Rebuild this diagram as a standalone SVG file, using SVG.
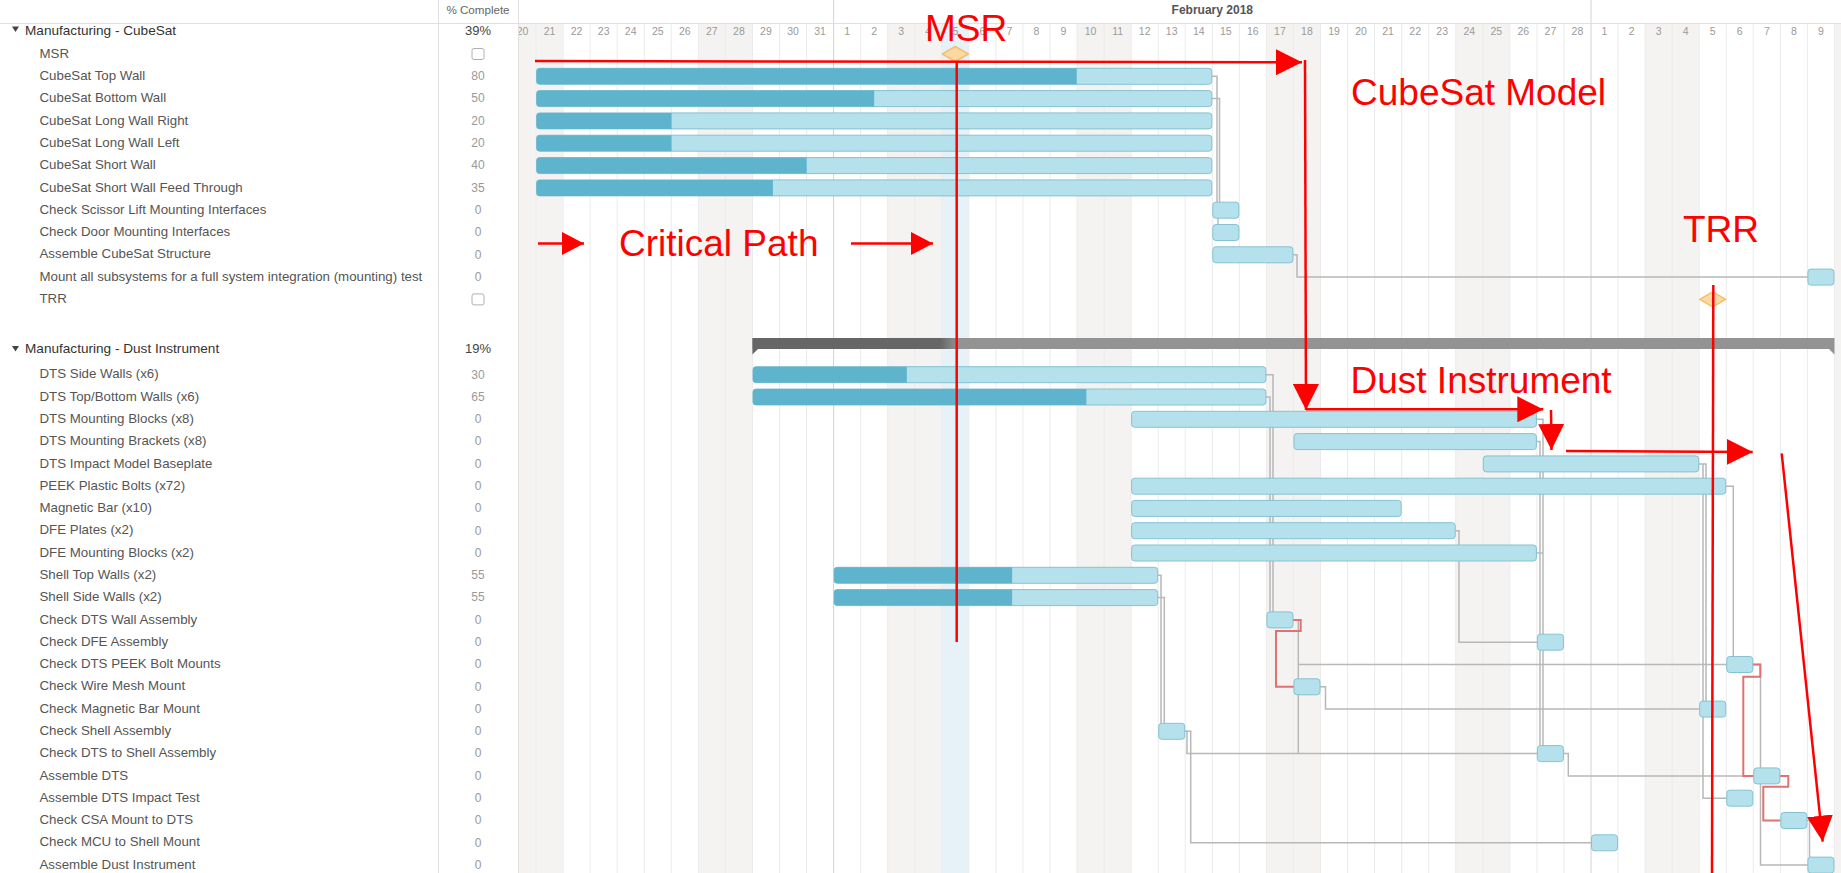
<svg xmlns="http://www.w3.org/2000/svg" width="1841" height="873" viewBox="0 0 1841 873">
<style>
text{font-family:"Liberation Sans",Arial,sans-serif}
.lbl{font-size:13.3px;fill:#555}
.grp{font-size:13.6px;fill:#333}
.pct{font-size:12px;fill:#999;text-anchor:middle}
.gpct{font-size:13px;fill:#444;text-anchor:middle}
.day{font-size:10.5px;fill:#9a9a9a;text-anchor:middle}
.bar{fill:#b5e1ec;stroke:#86c2d2;stroke-width:1}
.prog{fill:#5fb4cd}
.dep{fill:none;stroke:#b8b8b8;stroke-width:1.5}
.crit{fill:none;stroke:#e07272;stroke-width:2}
.ann{fill:none;stroke:#ff0000;stroke-width:2.5}
.annt{font-size:37px;fill:#ff0000}
.ms{fill:#fcd9a2;stroke:#f3bf70;stroke-width:1.5;stroke-linejoin:round}
.chk{fill:#fff;stroke:#b0b0b0;stroke-width:1}
.wk{fill:#f4f3f1}
</style>
<defs>
<clipPath id="tl"><rect x="518" y="0" width="1323" height="873"/></clipPath>
<marker id="ah" markerUnits="userSpaceOnUse" viewBox="0 0 26 26" markerWidth="26" markerHeight="26" refX="26" refY="13" orient="auto"><path d="M0,0 L26,13 L0,26 Z" fill="#ff0000"/></marker>
<marker id="ahs" markerUnits="userSpaceOnUse" viewBox="0 0 22 23" markerWidth="22" markerHeight="23" refX="22" refY="11.5" orient="auto"><path d="M0,0 L22,11.5 L0,23 Z" fill="#ff0000"/></marker>
<linearGradient id="sg" x1="0" x2="1" y1="0" y2="0"><stop offset="0" stop-color="#666"/><stop offset="1" stop-color="#939393"/></linearGradient>
</defs>
<rect x="0" y="0" width="1841" height="873" fill="#fff"/>
<g id="timeline-grid" clip-path="url(#tl)">
<rect class="wk" x="518" y="23" width="45.1" height="850"/>
<rect class="wk" x="698.35" y="23" width="54.1" height="850"/>
<rect class="wk" x="887.7" y="23" width="54.1" height="850"/>
<rect class="wk" x="1077.05" y="23" width="54.1" height="850"/>
<rect class="wk" x="1266.4" y="23" width="54.1" height="850"/>
<rect class="wk" x="1455.75" y="23" width="54.1" height="850"/>
<rect class="wk" x="1645.1" y="23" width="54.1" height="850"/>
<rect class="wk" x="1834.45" y="23" width="7" height="850"/>
<rect x="941.8" y="23" width="27.05" height="850" fill="#e6f2f8"/>
<path fill="none" stroke="#ebebeb" stroke-width="1" d="M536.05,23V873M563.1,23V873M590.15,23V873M617.2,23V873M644.25,23V873M671.3,23V873M698.35,23V873M725.4,23V873M752.45,23V873M779.5,23V873M806.55,23V873M860.65,23V873M887.7,23V873M914.75,23V873M941.8,23V873M968.85,23V873M995.9,23V873M1022.95,23V873M1050,23V873M1077.05,23V873M1104.1,23V873M1131.15,23V873M1158.2,23V873M1185.25,23V873M1212.3,23V873M1239.35,23V873M1266.4,23V873M1293.45,23V873M1320.5,23V873M1347.55,23V873M1374.6,23V873M1401.65,23V873M1428.7,23V873M1455.75,23V873M1482.8,23V873M1509.85,23V873M1536.9,23V873M1563.95,23V873M1618.05,23V873M1645.1,23V873M1672.15,23V873M1699.2,23V873M1726.25,23V873M1753.3,23V873M1780.35,23V873M1807.4,23V873M1834.45,23V873"/>
<path fill="none" stroke="#d2d2d2" stroke-width="1" d="M833.6,0V873M1591,0V873"/>
<text x="1212.3" y="14" font-size="12" font-weight="bold" fill="#555" text-anchor="middle">February 2018</text>
<g class="daylabels">
<text class="day" x="522.5" y="35">20</text><text class="day" x="549.55" y="35">21</text><text class="day" x="576.6" y="35">22</text><text class="day" x="603.65" y="35">23</text><text class="day" x="630.7" y="35">24</text><text class="day" x="657.75" y="35">25</text><text class="day" x="684.8" y="35">26</text><text class="day" x="711.85" y="35">27</text><text class="day" x="738.9" y="35">28</text><text class="day" x="765.95" y="35">29</text><text class="day" x="793" y="35">30</text><text class="day" x="820.05" y="35">31</text>
<text class="day" x="847.1" y="35">1</text><text class="day" x="874.15" y="35">2</text><text class="day" x="901.2" y="35">3</text><text class="day" x="928.25" y="35">4</text><text class="day" x="955.3" y="35">5</text><text class="day" x="982.35" y="35">6</text><text class="day" x="1009.4" y="35">7</text><text class="day" x="1036.45" y="35">8</text><text class="day" x="1063.5" y="35">9</text><text class="day" x="1090.55" y="35">10</text><text class="day" x="1117.6" y="35">11</text><text class="day" x="1144.65" y="35">12</text><text class="day" x="1171.7" y="35">13</text><text class="day" x="1198.75" y="35">14</text><text class="day" x="1225.8" y="35">15</text><text class="day" x="1252.85" y="35">16</text><text class="day" x="1279.9" y="35">17</text><text class="day" x="1306.95" y="35">18</text><text class="day" x="1334" y="35">19</text><text class="day" x="1361.05" y="35">20</text><text class="day" x="1388.1" y="35">21</text><text class="day" x="1415.15" y="35">22</text><text class="day" x="1442.2" y="35">23</text><text class="day" x="1469.25" y="35">24</text><text class="day" x="1496.3" y="35">25</text><text class="day" x="1523.35" y="35">26</text><text class="day" x="1550.4" y="35">27</text><text class="day" x="1577.45" y="35">28</text>
<text class="day" x="1604.5" y="35">1</text><text class="day" x="1631.55" y="35">2</text><text class="day" x="1658.6" y="35">3</text><text class="day" x="1685.65" y="35">4</text><text class="day" x="1712.7" y="35">5</text><text class="day" x="1739.75" y="35">6</text><text class="day" x="1766.8" y="35">7</text><text class="day" x="1793.85" y="35">8</text><text class="day" x="1820.9" y="35">9</text>
</g>
</g>
<g id="panes">
<path fill="none" stroke="#e0e0e0" stroke-width="1" d="M0,23.5H1841M438.5,0V873M518.5,0V873"/>
<text x="478" y="14" font-size="11.6" fill="#666" text-anchor="middle">% Complete</text>
</g>
<g id="connectors">
<path class="dep" d="M1211.8,76.3H1217V202.2"/>
<path class="dep" d="M1211.8,98.6H1219.5V202.2"/>
<path class="dep" d="M1218,218.2V224.5"/>
<path class="dep" d="M1293,254.8H1297V277.1H1807.9"/>
<path class="dep" d="M1265.4,374.7H1273V611.9"/>
<path class="dep" d="M1265.4,397H1270V611.9"/>
<path class="dep" d="M1536.4,419.3H1543V745.6"/>
<path class="dep" d="M1536.4,441.6H1540V745.6"/>
<path class="dep" d="M1536.4,553H1543"/>
<path class="dep" d="M1455.3,530.7H1459V642.2H1537.4"/>
<path class="dep" d="M1698.7,463.9H1706V701.1"/>
<path class="dep" d="M1703,463.9V798.2H1726.75"/>
<path class="dep" d="M1725.8,486.2H1733.3V656.5"/>
<path class="dep" d="M1157.7,575.3H1161V723.3"/>
<path class="dep" d="M1157.7,597.6H1164.3V723.3"/>
<path class="dep" d="M1184.8,731.3H1187V753.6H1537.4"/>
<path class="dep" d="M1184.8,731.3H1190.7V842.8H1591.5"/>
<path class="dep" d="M1293,619.9H1298.3V753.6"/>
<path class="dep" d="M1298.3,664.5H1726.75"/>
<path class="dep" d="M1320,686.8H1325.5V709.1H1699.7"/>
<path class="dep" d="M1563.5,753.6H1568.3V775.9H1753.8"/>
<path class="dep" d="M1752.8,664.5H1760.5V865.1H1807.9"/>
<path class="dep" d="M1806.9,820.5H1809.5V857.1"/>
<path class="crit" d="M1293,619.9H1300.7V631H1276V686.8H1293.95"/>
<path class="crit" d="M1752.8,664.5H1760.3V676.7H1743.3V775.9H1753.8"/>
<path class="crit" d="M1779.9,775.9H1788.3V786.7H1763.3V820.5H1780.85"/>
</g>
<g id="group-cubesat">
<polygon points="12,26.5 19,26.5 15.5,32" fill="#444"/>
<text class="grp" x="25" y="34.8">Manufacturing - CubeSat</text>
<text class="gpct" x="478" y="34.8">39%</text>
</g>
<g id="task-msr"><text class="lbl" x="39.5" y="57.6">MSR</text><rect class="chk" x="472" y="48.5" width="12" height="11" rx="2"/><polygon class="ms" points="942.3,54 955.3,46.5 968.3,54 955.3,61.5"/></g>
<g id="task-top-wall"><text class="lbl" x="39.5" y="79.9">CubeSat Top Wall</text><text class="pct" x="478" y="80.1">80</text><rect class="bar" x="536.55" y="68.3" width="675.25" height="16" rx="3"/><path class="prog" d="M539.55,68.3H1076.75V84.3H539.55A3,3 0 0 1 536.55,81.3V71.3A3,3 0 0 1 539.55,68.3Z"/></g>
<g id="task-bottom-wall"><text class="lbl" x="39.5" y="102.2">CubeSat Bottom Wall</text><text class="pct" x="478" y="102.4">50</text><rect class="bar" x="536.55" y="90.6" width="675.25" height="16" rx="3"/><path class="prog" d="M539.55,90.6H874.2V106.6H539.55A3,3 0 0 1 536.55,103.6V93.6A3,3 0 0 1 539.55,90.6Z"/></g>
<g id="task-long-wall-right"><text class="lbl" x="39.5" y="124.5">CubeSat Long Wall Right</text><text class="pct" x="478" y="124.7">20</text><rect class="bar" x="536.55" y="112.9" width="675.25" height="16" rx="3"/><path class="prog" d="M539.55,112.9H671.6V128.9H539.55A3,3 0 0 1 536.55,125.9V115.9A3,3 0 0 1 539.55,112.9Z"/></g>
<g id="task-long-wall-left"><text class="lbl" x="39.5" y="146.8">CubeSat Long Wall Left</text><text class="pct" x="478" y="147">20</text><rect class="bar" x="536.55" y="135.2" width="675.25" height="16" rx="3"/><path class="prog" d="M539.55,135.2H671.6V151.2H539.55A3,3 0 0 1 536.55,148.2V138.2A3,3 0 0 1 539.55,135.2Z"/></g>
<g id="task-short-wall"><text class="lbl" x="39.5" y="169.2">CubeSat Short Wall</text><text class="pct" x="478" y="169.4">40</text><rect class="bar" x="536.55" y="157.6" width="675.25" height="16" rx="3"/><path class="prog" d="M539.55,157.6H806.7V173.6H539.55A3,3 0 0 1 536.55,170.6V160.6A3,3 0 0 1 539.55,157.6Z"/></g>
<g id="task-feed-through"><text class="lbl" x="39.5" y="191.5">CubeSat Short Wall Feed Through</text><text class="pct" x="478" y="191.7">35</text><rect class="bar" x="536.55" y="179.9" width="675.25" height="16" rx="3"/><path class="prog" d="M539.55,179.9H772.9V195.9H539.55A3,3 0 0 1 536.55,192.9V182.9A3,3 0 0 1 539.55,179.9Z"/></g>
<g id="task-check-scissor"><text class="lbl" x="39.5" y="213.8">Check Scissor Lift Mounting Interfaces</text><text class="pct" x="478" y="214">0</text><rect class="bar" x="1212.8" y="202.2" width="26.05" height="16" rx="3"/></g>
<g id="task-check-door"><text class="lbl" x="39.5" y="236.1">Check Door Mounting Interfaces</text><text class="pct" x="478" y="236.3">0</text><rect class="bar" x="1212.8" y="224.5" width="26.05" height="16" rx="3"/></g>
<g id="task-assemble-cubesat"><text class="lbl" x="39.5" y="258.4">Assemble CubeSat Structure</text><text class="pct" x="478" y="258.6">0</text><rect class="bar" x="1212.8" y="246.8" width="80.15" height="16" rx="3"/></g>
<g id="task-mount-all"><text class="lbl" x="39.5" y="280.7">Mount all subsystems for a full system integration (mounting) test</text><text class="pct" x="478" y="280.9">0</text><rect class="bar" x="1807.9" y="269.1" width="26.05" height="16" rx="3"/></g>
<g id="task-trr"><text class="lbl" x="39.5" y="303">TRR</text><rect class="chk" x="472" y="293.9" width="12" height="11" rx="2"/><polygon class="ms" points="1699.7,299.4 1712.7,291.9 1725.7,299.4 1712.7,306.9"/></g>
<g id="group-dust">
<polygon points="12,346 19,346 15.5,351.5" fill="#444"/>
<text class="grp" x="25" y="352.8">Manufacturing - Dust Instrument</text>
<text class="gpct" x="478" y="352.8">19%</text>
<rect x="752.45" y="338" width="1082" height="11" fill="#939393"/>
<rect x="752.45" y="338" width="188" height="11" fill="#666"/>
<rect x="940" y="338" width="18" height="11" fill="url(#sg)"/>
<polygon points="752.45,349 758,349 752.45,354.5" fill="#666"/>
<polygon points="1834.45,349 1828.9,349 1834.45,354.5" fill="#939393"/>
</g>
<g id="task-dts-side-walls"><text class="lbl" x="39.5" y="378.3">DTS Side Walls (x6)</text><text class="pct" x="478" y="378.5">30</text><rect class="bar" x="752.95" y="366.7" width="512.95" height="16" rx="3"/><path class="prog" d="M755.95,366.7H906.8V382.7H755.95A3,3 0 0 1 752.95,379.7V369.7A3,3 0 0 1 755.95,366.7Z"/></g>
<g id="task-dts-top-bottom"><text class="lbl" x="39.5" y="400.6">DTS Top/Bottom Walls (x6)</text><text class="pct" x="478" y="400.8">65</text><rect class="bar" x="752.95" y="389" width="512.95" height="16" rx="3"/><path class="prog" d="M755.95,389H1086.4V405H755.95A3,3 0 0 1 752.95,402V392A3,3 0 0 1 755.95,389Z"/></g>
<g id="task-dts-mounting-blocks"><text class="lbl" x="39.5" y="422.9">DTS Mounting Blocks (x8)</text><text class="pct" x="478" y="423.1">0</text><rect class="bar" x="1131.65" y="411.3" width="404.75" height="16" rx="3"/></g>
<g id="task-dts-mounting-brackets"><text class="lbl" x="39.5" y="445.2">DTS Mounting Brackets (x8)</text><text class="pct" x="478" y="445.4">0</text><rect class="bar" x="1293.95" y="433.6" width="242.45" height="16" rx="3"/></g>
<g id="task-dts-baseplate"><text class="lbl" x="39.5" y="467.5">DTS Impact Model Baseplate</text><text class="pct" x="478" y="467.7">0</text><rect class="bar" x="1483.3" y="455.9" width="215.4" height="16" rx="3"/></g>
<g id="task-peek-bolts"><text class="lbl" x="39.5" y="489.8">PEEK Plastic Bolts (x72)</text><text class="pct" x="478" y="490">0</text><rect class="bar" x="1131.65" y="478.2" width="594.1" height="16" rx="3"/></g>
<g id="task-magnetic-bar"><text class="lbl" x="39.5" y="512">Magnetic Bar (x10)</text><text class="pct" x="478" y="512.2">0</text><rect class="bar" x="1131.65" y="500.4" width="269.5" height="16" rx="3"/></g>
<g id="task-dfe-plates"><text class="lbl" x="39.5" y="534.3">DFE Plates (x2)</text><text class="pct" x="478" y="534.5">0</text><rect class="bar" x="1131.65" y="522.7" width="323.6" height="16" rx="3"/></g>
<g id="task-dfe-mounting-blocks"><text class="lbl" x="39.5" y="556.6">DFE Mounting Blocks (x2)</text><text class="pct" x="478" y="556.8">0</text><rect class="bar" x="1131.65" y="545" width="404.75" height="16" rx="3"/></g>
<g id="task-shell-top"><text class="lbl" x="39.5" y="578.9">Shell Top Walls (x2)</text><text class="pct" x="478" y="579.1">55</text><rect class="bar" x="834.1" y="567.3" width="323.6" height="16" rx="3"/><path class="prog" d="M837.1,567.3H1012.1V583.3H837.1A3,3 0 0 1 834.1,580.3V570.3A3,3 0 0 1 837.1,567.3Z"/></g>
<g id="task-shell-side"><text class="lbl" x="39.5" y="601.2">Shell Side Walls (x2)</text><text class="pct" x="478" y="601.4">55</text><rect class="bar" x="834.1" y="589.6" width="323.6" height="16" rx="3"/><path class="prog" d="M837.1,589.6H1012.1V605.6H837.1A3,3 0 0 1 834.1,602.6V592.6A3,3 0 0 1 837.1,589.6Z"/></g>
<g id="task-check-dts-wall"><text class="lbl" x="39.5" y="623.5">Check DTS Wall Assembly</text><text class="pct" x="478" y="623.7">0</text><rect class="bar" x="1266.9" y="611.9" width="26.05" height="16" rx="3"/></g>
<g id="task-check-dfe"><text class="lbl" x="39.5" y="645.8">Check DFE Assembly</text><text class="pct" x="478" y="646">0</text><rect class="bar" x="1537.4" y="634.2" width="26.05" height="16" rx="3"/></g>
<g id="task-check-peek"><text class="lbl" x="39.5" y="668.1">Check DTS PEEK Bolt Mounts</text><text class="pct" x="478" y="668.3">0</text><rect class="bar" x="1726.75" y="656.5" width="26.05" height="16" rx="3"/></g>
<g id="task-check-wire-mesh"><text class="lbl" x="39.5" y="690.4">Check Wire Mesh Mount</text><text class="pct" x="478" y="690.6">0</text><rect class="bar" x="1293.95" y="678.8" width="26.05" height="16" rx="3"/></g>
<g id="task-check-magnetic"><text class="lbl" x="39.5" y="712.7">Check Magnetic Bar Mount</text><text class="pct" x="478" y="712.9">0</text><rect class="bar" x="1699.7" y="701.1" width="26.05" height="16" rx="3"/></g>
<g id="task-check-shell"><text class="lbl" x="39.5" y="734.9">Check Shell Assembly</text><text class="pct" x="478" y="735.1">0</text><rect class="bar" x="1158.7" y="723.3" width="26.05" height="16" rx="3"/></g>
<g id="task-check-dts-shell"><text class="lbl" x="39.5" y="757.2">Check DTS to Shell Assembly</text><text class="pct" x="478" y="757.4">0</text><rect class="bar" x="1537.4" y="745.6" width="26.05" height="16" rx="3"/></g>
<g id="task-assemble-dts"><text class="lbl" x="39.5" y="779.5">Assemble DTS</text><text class="pct" x="478" y="779.7">0</text><rect class="bar" x="1753.8" y="767.9" width="26.05" height="16" rx="3"/></g>
<g id="task-impact-test"><text class="lbl" x="39.5" y="801.8">Assemble DTS Impact Test</text><text class="pct" x="478" y="802">0</text><rect class="bar" x="1726.75" y="790.2" width="26.05" height="16" rx="3"/></g>
<g id="task-check-csa"><text class="lbl" x="39.5" y="824.1">Check CSA Mount to DTS</text><text class="pct" x="478" y="824.3">0</text><rect class="bar" x="1780.85" y="812.5" width="26.05" height="16" rx="3"/></g>
<g id="task-check-mcu"><text class="lbl" x="39.5" y="846.4">Check MCU to Shell Mount</text><text class="pct" x="478" y="846.6">0</text><rect class="bar" x="1591.5" y="834.8" width="26.05" height="16" rx="3"/></g>
<g id="task-assemble-dust"><text class="lbl" x="39.5" y="868.7">Assemble Dust Instrument</text><text class="pct" x="478" y="868.9">0</text><rect class="bar" x="1807.9" y="857.1" width="26.05" height="16" rx="3"/></g>
<g id="annotations">
<path class="ann" d="M956.7,61V642"/>
<path class="ann" d="M1713.3,285L1712,873"/>
<path class="ann" d="M535,61L1302,62.3" marker-end="url(#ah)"/>
<path class="ann" d="M1305,60L1306,410" marker-end="url(#ah)"/>
<path class="ann" d="M1306,409.3H1543.3" marker-end="url(#ah)"/>
<path class="ann" d="M1551,410L1551.5,450" marker-end="url(#ah)"/>
<path class="ann" d="M1566,451L1752.7,452" marker-end="url(#ah)"/>
<path class="ann" stroke-width="2" d="M1781.7,453.3L1822.7,841.7" marker-end="url(#ah)"/>
<path class="ann" d="M538,243.5H584" marker-end="url(#ahs)"/>
<path class="ann" d="M851,243.5H933" marker-end="url(#ahs)"/>
<text class="annt" x="925" y="41">MSR</text>
<text class="annt" x="1351" y="105">CubeSat Model</text>
<text class="annt" x="619" y="256">Critical Path</text>
<text class="annt" x="1683" y="242">TRR</text>
<text class="annt" x="1350.5" y="392.7">Dust Instrument</text>
</g>
</svg>
